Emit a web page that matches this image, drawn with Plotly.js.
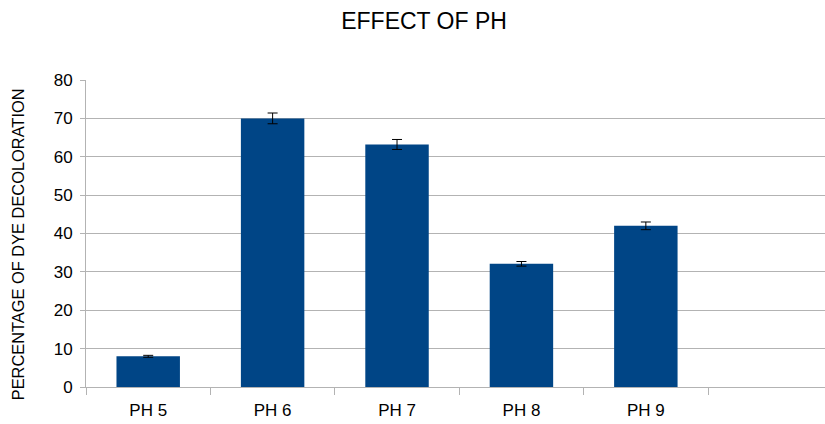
<!DOCTYPE html>
<html><head><meta charset="utf-8">
<script src="https://cdn.plot.ly/plotly-3.0.1.min.js"></script>
<style>html,body{margin:0;padding:0;background:#fff}#chart{width:825px;height:424px}</style>
</head><body><div id="chart"></div>
<script>
const categories = ["PH 5", "PH 6", "PH 7", "PH 8", "PH 9", " "];
const decoloration = [8, 70, 63.2, 32.1, 42, null];
const errors = [0.25, 1.4, 1.3, 0.6, 1.0, 0];
const yTicks = [0, 10, 20, 30, 40, 50, 60, 70, 80];
const yTitle = "PERCENTAGE OF DYE DECOLORATION";

const trace = {
  type: "bar",
  x: categories,
  y: decoloration,
  marker: {color: "#004586"},
  error_y: {type: "data", array: errors, visible: true, color: "#000000", thickness: 1, width: 5},
  hoverinfo: "none"
};

const layout = {
  width: 825, height: 424,
  margin: {l: 86, r: 0, t: 80, b: 37},
  paper_bgcolor: "#ffffff", plot_bgcolor: "#ffffff",
  font: {family: "Liberation Sans, Arial, sans-serif", color: "#000000"},
  title: {text: "EFFECT OF PH", font: {size: 23, color: "#000000"}, x: 0.514, xanchor: "center", xref: "container", y: 0.951, yanchor: "middle", yref: "container"},
  bargap: 0.49,
  showlegend: false,
  xaxis: {
    type: "category",
    range: [-0.5, 5.44],
    tickson: "boundaries",
    ticks: "outside", ticklen: 7, tickcolor: "#b3b3b3", tickwidth: 1,
    showline: true, linecolor: "#b3b3b3", linewidth: 1,
    showgrid: false,
    tickfont: {size: 17, color: "#000000"},
    ticklabelstandoff: 8,
    fixedrange: true
  },
  yaxis: {
    range: [0, 80],
    tickvals: yTicks,
    ticks: "outside", ticklen: 5, tickcolor: "#b3b3b3",
    showline: true, linecolor: "#b3b3b3",
    showgrid: true, gridcolor: "#b3b3b3", gridwidth: 1,
    zeroline: false,
    tickfont: {size: 17, color: "#000000"},
    ticklabelstandoff: 4,
    fixedrange: true
  },
  annotations: [{
    text: yTitle, textangle: -90,
    xref: "paper", x: 0, xshift: -68, xanchor: "center",
    yref: "paper", y: 0.465, yanchor: "middle",
    showarrow: false, font: {size: 16.4, color: "#000000"}
  }]
};

Plotly.newPlot("chart", [trace], layout, {displayModeBar: false, staticPlot: true});
</script></body></html>
